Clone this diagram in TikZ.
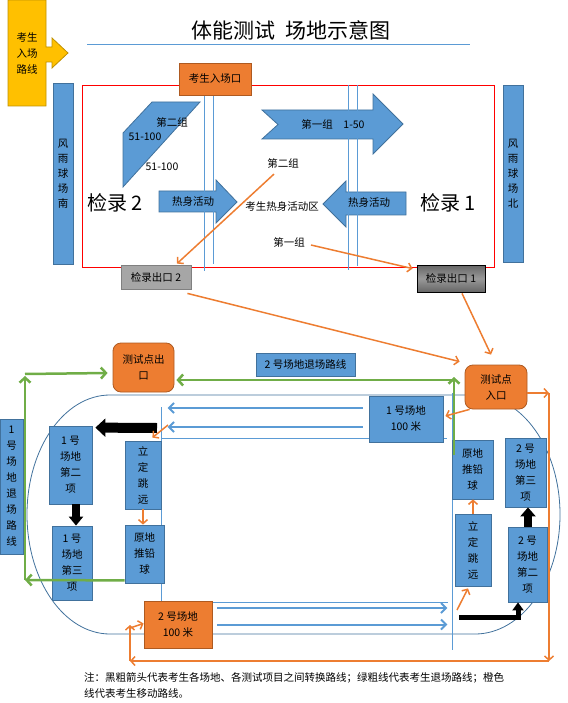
\documentclass[tikz,border=0pt]{standalone}
\usepackage{fontspec}
\setmainfont{Noto Sans CJK SC}
\usetikzlibrary{arrows.meta,calc,positioning}
\definecolor{fieldblue}{HTML}{5B9BD5}
\definecolor{fieldedge}{HTML}{41719C}
\definecolor{gateorange}{HTML}{ED7D31}
\definecolor{gateedge}{HTML}{AE5A21}
\definecolor{exitgreen}{HTML}{70AD47}
\definecolor{entryyellow}{HTML}{FFC000}
\definecolor{entryedge}{HTML}{BF9000}
\newcommand{\boxfont}{\fontsize{10.5}{16}\selectfont}
\newcommand{\barfont}{\fontsize{10.5}{15}\selectfont}
\tikzset{
  labeltext/.style={font=\boxfont,inner sep=1pt,align=center},
  fieldbox/.style={draw=fieldedge,fill=fieldblue,line width=0.8pt,font=\boxfont,align=center,inner sep=0pt},
  gatebox/.style={draw=gateedge,fill=gateorange,line width=0.8pt,font=\boxfont,align=center,inner sep=0pt},
  pointbox/.style={gatebox,rounded corners=8pt},
  fieldshape/.style={draw=fieldedge,fill=fieldblue,line width=0.8pt},
  laneline/.style={draw=fieldblue,line width=0.8pt},
  trackline/.style={draw=fieldedge,line width=0.8pt},
  lanearrow/.style={draw=fieldblue,line width=2pt,-{Straight Barb[length=5pt,width=10pt]}},
  moveroute/.style={draw=gateorange,line width=1.5pt,-{Straight Barb[length=4pt,width=9pt]}},
  exitroute/.style={draw=exitgreen,line width=2.5pt,-{Straight Barb[length=5pt,width=11pt]}},
  changeover/.style={draw=black}
}
\begin{document}
\begin{tikzpicture}[x=1pt,y=-1pt,>=Latex]
\useasboundingbox (0,0) rectangle (567,703);

% entry route and title
\filldraw[fill=entryyellow,draw=entryedge,line width=0.8pt] (8,0)--(46,0)--(46,47)--(52,47)--(52,38)--(68,53)--(52,68)--(52,62)--(46,62)--(46,106)--(8,106)--cycle;
\node[labeltext] (entry) at (27,54) {考生\\入场\\路线};
\node[font=\fontsize{21}{24}\selectfont] (title) at (291,30) {体能测试\ \ 场地示意图};
\draw[laneline] (87,44) -- (470,44);

% warm-up area
\draw[red,line width=0.8pt] (82,85) rectangle (494,267);
\filldraw[fieldshape] (152,102)--(200,102)--(123,187)--(123,133)--cycle;
\filldraw[fieldshape] (262,110)--(373,110)--(373,94)--(403,124)--(373,154)--(373,139)--(262,139)--(278,124.5)--cycle;
\filldraw[fieldshape] (159,191)--(216,191)--(216,180)--(237,202)--(216,223)--(216,212)--(159,212)--cycle;
\filldraw[fieldshape] (406,192)--(346,192)--(346,181)--(323,204)--(346,227)--(346,215)--(406,215)--cycle;
\foreach \x/\a/\b in {204/95/271,213/95/264,348/85/270,357/85/266}{\draw[laneline] (\x,\a)--(\x,\b);}
\node[labeltext] (grp2a) at (172,122) {第二组};
\node[labeltext] (num2a) at (145,137) {51-100};
\node[labeltext] (num2b) at (162,167) {51-100};
\node[labeltext] (grp1) at (333,124) {第一组\quad 1-50};
\node[labeltext] (warmL) at (193,202) {热身活动};
\node[labeltext] (warmR) at (369,203) {热身活动};
\node[labeltext] (zone) at (282,207) {考生热身活动区};
\node[labeltext] (g2lbl) at (283,163) {第二组};
\node[labeltext] (g1lbl) at (289,242) {第一组};
\node[font=\fontsize{20}{24}\selectfont] (check2) at (115,203) {检录 2};
\node[font=\fontsize{20}{24}\selectfont] (check1) at (448,203) {检录 1};
\node[gatebox,minimum width=72,minimum height=32] (gatein) at (215,79) {考生入场口};
\node[fieldbox,font=\barfont,minimum width=20,minimum height=181] (south) at (63,173.5) {风\\雨\\球\\场\\南};
\node[fieldbox,font=\barfont,minimum width=20,minimum height=177] (north) at (513,173.5) {风\\雨\\球\\场\\北};
\node[draw=black!50,fill=black!35,line width=0.8pt,font=\boxfont,inner sep=0pt,minimum width=70,minimum height=24] (exit2) at (156,277) {检录出口 2};
\node[draw=black,top color=black!60,bottom color=black!60,middle color=black!40,line width=0.8pt,font=\boxfont,inner sep=0pt,minimum width=68,minimum height=27] (exit1) at (451,278.5) {检录出口 1};
\draw[moveroute] ([xshift=-9,yshift=-5]g2lbl.south) -- ([xshift=21,yshift=1]exit2.north);
\draw[moveroute] ([xshift=5,yshift=-3]g1lbl.east) -- ([xshift=-4,yshift=-4]exit1.north west);

% test field
\draw[trackline] (110,395) -- (475,395) arc[start angle=90,end angle=-90,x radius=85pt,y radius=119.5pt] -- (110,634) arc[start angle=270,end angle=90,x radius=83pt,y radius=119.5pt] -- cycle;
\draw[laneline] (161,407) -- (161,648);
\draw[laneline] (452,393) -- (452,650);
\draw[laneline] (161,438) -- (447,438);
\draw[laneline] (161,602) -- (448,602);
\node[fieldbox,minimum width=74,minimum height=46] (run1) at (406,419) {1 号场地\\100 米};
\node[gatebox,minimum width=68,minimum height=47] (run2) at (178,624.5) {2 号场地\\100 米};
\draw[lanearrow] ([xshift=-6,yshift=11]run1.west) -- ++(-195,0);
\draw[lanearrow] ([xshift=-6,yshift=-8]run1.west) -- ++(-195,0);
\draw[lanearrow] ([xshift=5,yshift=16.5]run2.east) -- ++(230,0);
\draw[lanearrow] ([xshift=5]run2.east) -- ++(230,0);
\node[pointbox,minimum width=62,minimum height=44] (testin) at (496,387) {测试点\\入口};
\node[pointbox,minimum width=61,minimum height=49] (testout) at (143.5,367.5) {测试点出\\口};
\node[fieldbox,minimum width=99,minimum height=23] (route2) at (305.5,364.5) {2 号场地退场路线};
\node[fieldbox,minimum width=23,minimum height=135] (route1) at (11.5,486.5) {1\\号\\场\\地\\退\\场\\路\\线};
\node[fieldbox,minimum width=43,minimum height=78] (side2) at (70.5,465) {1 号\\场地\\第二\\项};
\node[fieldbox,minimum width=40,minimum height=74] (side3) at (72,563) {1 号\\场地\\第三\\项};
\node[fieldbox,minimum width=36,minimum height=68] (jumpL) at (143,475) {立\\定\\跳\\远};
\node[fieldbox,minimum width=39,minimum height=58] (shotL) at (144.5,554) {原地\\推铅\\球};
\node[fieldbox,minimum width=41,minimum height=59] (shotR) at (472.5,469.5) {原地\\推铅\\球};
\node[fieldbox,minimum width=41,minimum height=69] (side23) at (525.5,472.5) {2 号\\场地\\第三\\项};
\node[fieldbox,minimum width=36,minimum height=72] (jumpR) at (473,550) {立\\定\\跳\\远};
\node[fieldbox,minimum width=39,minimum height=75] (side22) at (527.5,564.5) {2 号\\场地\\第二\\项};

% black: changes between fields and items
\draw[changeover,line width=10pt,-{Triangle[width=18pt,length=10pt]}] (157,428) -- ([xshift=3,yshift=-2]side2.north east);
\draw[changeover,line width=8pt,-{Triangle[width=14pt,length=9pt]}] ([xshift=5.5]side2.south) -- ([xshift=4]side3.north);
\draw[changeover,line width=8pt,-{Triangle[width=15pt,length=9pt]}] ([xshift=0.5]side22.north) -- ([xshift=2.5]side23.south);
\draw[changeover,line width=5pt,-{Triangle[width=11pt,length=8pt]}] (459,617) -| ([xshift=-9.5]side22.south);

% green: leaving routes
\coordinate (gv) at (454,455);
\coordinate (gturn) at (454,377);
\draw[exitroute] (gv) -- (gturn);
\draw[exitroute] ([yshift=-3]gturn) -- ([xshift=2]testout.east |- 0,380);
\coordinate (gcorner) at (25,580);
\coordinate (gtop) at (25,376);
\draw[exitroute] ([yshift=3]shotL.south west) -- (gcorner);
\draw[exitroute] (gcorner) -- (gtop);
\draw[exitroute] ([yshift=2]gtop) -- ([xshift=-5,yshift=-5.5]testout.west);

% orange: moving routes
\draw[moveroute] ([xshift=-4,yshift=-4]exit2.south east) -- ([xshift=-5,yshift=3]testin.north west);
\draw[moveroute] ([xshift=11,yshift=-1]exit1.south) -- ([xshift=-5,yshift=10]testin.north);
\draw[moveroute] ([xshift=5]testin.south west) -- ([xshift=2,yshift=3]run1.east);
\coordinate (loopR) at (549,393);
\coordinate (loopB) at (549,661);
\coordinate (loopL) at (130,661);
\coordinate (loopU) at (130,625);
\draw[moveroute] ([yshift=-6]testin.east) -- (loopR);
\draw[moveroute] (loopR) -- (loopB);
\draw[moveroute] (loopB) -- (loopL);
\draw[moveroute] (loopL) -- (loopU);
\draw[moveroute] ([yshift=-3]loopU) -- ([yshift=1]run2.west);
\draw[moveroute] (168,425) -- ([xshift=-9,yshift=3]jumpL.north east);
\draw[moveroute] (jumpL.south) -- ([xshift=-1.5]shotL.north);
\draw[moveroute] (457,610) -- ([xshift=-5,yshift=-2]jumpR.south);
\draw[moveroute] (jumpR.north) -- ([xshift=0.5]shotR.south);

% note
\node[font=\fontsize{10.5}{16}\selectfont,align=left,anchor=west,inner sep=0pt] (note) at (84,685) {注：黑粗箭头代表考生各场地、各测试项目之间转换路线；绿粗线代表考生退场路线；橙色\\线代表考生移动路线。};
\end{tikzpicture}
\end{document}
